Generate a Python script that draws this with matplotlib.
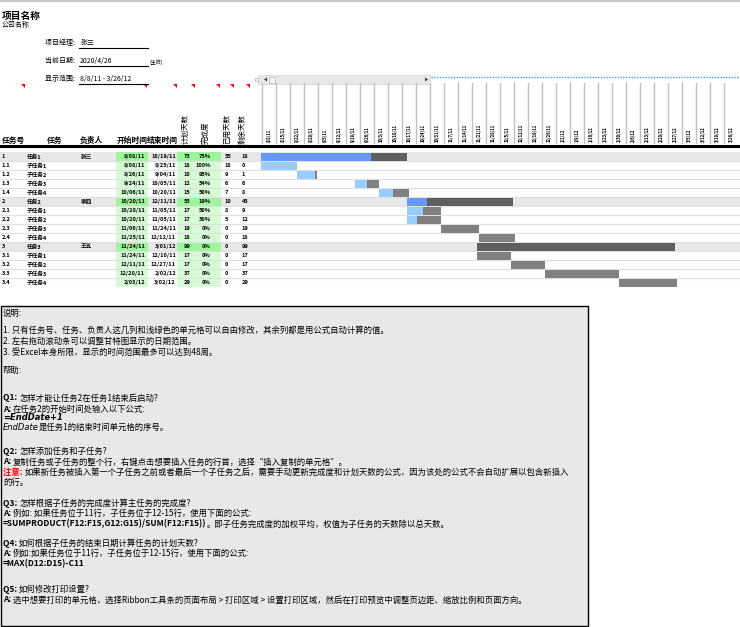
import matplotlib
matplotlib.use('Agg')
import matplotlib.pyplot as plt
import matplotlib.dates as mdates
from matplotlib.patches import Rectangle, Polygon
from datetime import datetime

plt.rcParams['font.family'] = ['Noto Sans CJK SC', 'DejaVu Sans']

# task table (read from the sheet)
task_ids = ['1', '1.1', '1.2', '1.3', '1.4', '2', '2.1', '2.2', '2.3', '2.4',
            '3', '3.1', '3.2', '3.3', '3.4']
task_names = ['任务1', '子任务1', '子任务2', '子任务3', '子任务4',
              '任务2', '子任务1', '子任务2', '子任务3', '子任务4',
              '任务3', '子任务1', '子任务2', '子任务3', '子任务4']
owners = ['张三', '', '', '', '', '李四', '', '', '', '', '王五', '', '', '', '']
start_dates = ['8/08/11', '8/08/11', '8/26/11', '9/24/11', '10/06/11',
               '10/20/11', '10/20/11', '10/20/11', '11/06/11', '11/25/11',
               '11/24/11', '11/24/11', '12/11/11', '12/28/11', '2/03/12']
end_dates = ['10/19/11', '8/25/11', '9/04/11', '10/05/11', '10/20/11',
             '12/11/11', '11/05/11', '11/05/11', '11/24/11', '12/12/11',
             '3/01/12', '12/10/11', '12/27/11', '2/02/12', '3/02/12']
plan_days = [73, 18, 10, 12, 15, 53, 17, 17, 19, 18, 99, 17, 17, 37, 29]
done_pct = [75, 100, 95, 54, 50, 19, 50, 30, 0, 0, 0, 0, 0, 0, 0]
used_days = [55, 18, 9, 6, 7, 10, 8, 5, 0, 0, 0, 0, 0, 0, 0]
left_days = [18, 0, 1, 6, 8, 43, 9, 12, 19, 18, 99, 17, 17, 37, 29]

week_labels = ['8/8/11', '8/15/11', '8/22/11', '8/29/11', '9/5/11', '9/12/11',
               '9/19/11', '9/26/11', '10/3/11', '10/10/11', '10/17/11',
               '10/24/11', '10/31/11', '11/7/11', '11/14/11', '11/21/11',
               '11/28/11', '12/5/11', '12/12/11', '12/19/11', '12/26/11',
               '1/2/12', '1/9/12', '1/16/12', '1/23/12', '1/30/12', '2/6/12',
               '2/13/12', '2/20/12', '2/27/12', '3/5/12', '3/12/12',
               '3/19/12', '3/26/12']

W, H = 740, 627
n = len(task_ids)
is_main = ['.' not in t for t in task_ids]
to_date = lambda s: datetime.strptime(s, '%m/%d/%y')
weeks = [to_date(s) for s in week_labels]

fig = plt.figure(figsize=(W / 100, H / 100), dpi=100)

# page axes in pixel units (for layout, headers and notes)
page = fig.add_axes([0, 0, 1, 1])
page.set_xlim(0, W)
page.set_ylim(H, 0)
page.axis('off')

page.plot([0, W], [0.8, 0.8], color='#c8c8c8', lw=1.6)
page.text(2, 16, '项目名称', fontsize=7, fontweight='bold', va='center')
page.text(2, 25, '公司名称', fontsize=5, va='center')

info = [('项目经理: ', '张三', 43), ('当前日期: ', '2020/4/26', 61),
        ('显示范围: ', '8/8/11 - 3/26/12', 79)]
for lab, val, y in info:
    page.text(45, y, lab, fontsize=5, va='center')
    page.text(80, y, val, fontsize=5, va='center')
    page.plot([79, 148], [y + 4.5, y + 4.5], color='black', lw=0.8)
page.text(149, 62, '(生效)', fontsize=3.6, va='center')

# comment markers
for x in [25, 147, 177, 195, 220, 234, 250]:
    page.add_patch(Polygon([[x - 4, 84], [x, 84], [x, 88]], closed=True,
                           color='#ff0000', lw=0))

# scrollbar
page.add_patch(Rectangle((258, 75), 172, 9, fc='#e8e8e8', ec='#d8d8d8', lw=0.6))
page.add_patch(Rectangle((255, 78), 3, 3, fc='white', ec='#b0b0b0', lw=0.5))
page.add_patch(Polygon([[264, 79.5], [267, 77.5], [267, 81.5]], color='#404040', lw=0))
page.add_patch(Rectangle((269, 76.5), 6, 6, fc='#f4f4f4', ec='#bdbdbd', lw=0.5))
page.add_patch(Polygon([[428, 79.5], [425, 77.5], [425, 81.5]], color='#404040', lw=0))
page.plot([431, W], [77, 77], color='#3d9bff', lw=1, ls=(0, (1, 1)))

# column headers
hdr = [('任务号', 2), ('任务', 47), ('负责人', 80), ('开始时间', 117), ('结束时间', 147)]
for s, x in hdr:
    page.text(x, 140, s, fontsize=5.6, fontweight='bold', va='center')
for s, x in [('计划天数', 186), ('完成度', 206), ('已用天数', 227), ('剩余天数', 243)]:
    page.text(x, 143.5, s, fontsize=5.4, rotation=90, ha='center', va='bottom')
page.plot([0, W], [146, 146], color='black', lw=2.2)

# notes box
page.add_patch(Rectangle((0.5, 306), 587, 320, fc='#e8e8e8', ec='black', lw=1))

def rich_line(y, parts, size=6.0):
    prev = None
    for s, kw in parts:
        if prev is None:
            prev = page.text(3, y, s, fontsize=size, va='center', **kw)
        else:
            prev = page.annotate(s, xy=(1, 0.5), xycoords=prev, fontsize=size,
                                 va='center', **kw)

B = {'fontweight': 'bold'}
N = {}
notes = [
    (313, [('说明:', N)]),
    (330, [('1. 只有任务号、任务、负责人这几列和浅绿色的单元格可以自由修改，其余列都是用公式自动计算的值。', N)]),
    (341, [('2. 左右拖动滚动条可以调整甘特图显示的日期范围。', N)]),
    (352, [('3. 受Excel本身所限，显示的时间范围最多可以达到48周。', N)]),
    (370, [('帮助:', N)]),
    (398, [('Q1: ', B), ('怎样才能让任务2在任务1结束后启动?', N)]),
    (409, [('A: ', B), ('在任务2的开始时间处输入以下公式:', N)]),
    (418, [('=EndDate+1', {'fontweight': 'bold', 'style': 'italic', 'family': 'DejaVu Sans'})]),
    (427, [('EndDate', {'style': 'italic', 'family': 'DejaVu Sans'}), ('是任务1的结束时间单元格的序号。', N)]),
    (451, [('Q2: ', B), ('怎样添加任务和子任务?', N)]),
    (462, [('A: ', B), ('复制任务或子任务的整个行，右键点击想要插入任务的行首，选择“插入复制的单元格”。', N)]),
    (472, [('注意: ', {'fontweight': 'bold', 'color': '#ff0000'}),
           ('如果新任务被插入第一个子任务之前或者最后一个子任务之后，需要手动更新完成度和计划天数的公式，因为该处的公式不会自动扩展以包含新插入', N)]),
    (482, [('的行。', N)]),
    (503, [('Q3: ', B), ('怎样根据子任务的完成度计算主任务的完成度?', N)]),
    (513, [('A: ', B), ('例如: 如果任务位于11行，子任务位于12-15行，使用下面的公式:', N)]),
    (524, [('=SUMPRODUCT(F12:F15,G12:G15)/SUM(F12:F15))', B),
           ('。即子任务完成度的加权平均，权值为子任务的天数除以总天数。', N)]),
    (543, [('Q4: ', B), ('如何根据子任务的结束日期计算任务的计划天数?', N)]),
    (553, [('A: ', B), ('例如:如果任务位于11行，子任务位于12-15行，使用下面的公式:', N)]),
    (564, [('=MAX(D12:D15)-C11', B)]),
    (589, [('Q5: ', B), ('如何修改打印设置?', N)]),
    (600, [('A: ', B), ('选中想要打印的单元格，选择Ribbon工具条的页面布局 > 打印区域 > 设置打印区域，然后在打印预览中调整页边距、缩放比例和页面方向。', N)]),
]
for y, parts in notes:
    rich_line(y, parts)

# table rows
top, pitch = 152.5, 9.0
rect = [0, 1 - (top + n * pitch) / H, 1, n * pitch / H]
rows = fig.add_axes(rect)
rows.set_xlim(0, W)
rows.set_ylim(n - 0.5, -0.5)
rows.axis('off')
rows.patch.set_alpha(0)

fs = 4.1
cell = {'fontsize': fs, 'va': 'center', 'fontweight': 'bold'}
for i in range(n):
    if is_main[i]:
        rows.axhspan(i - 0.5, i + 0.5, color='#e8e8e8', lw=0)
    g = '#9cf79c' if is_main[i] else '#d6fcd6'
    rows.add_patch(Rectangle((116, i - 0.5), 32, 1, fc=g, lw=0))
    rows.add_patch(Rectangle((177, i - 0.5), 44, 1, fc=g, lw=0))
    rows.axhline(i + 0.5, color='#e0e0e0', lw=0.9)
    rows.text(2, i, task_ids[i], **cell)
    rows.text(27, i, task_names[i], **cell)
    rows.text(81, i, owners[i], **cell)
    rows.text(145, i, start_dates[i], ha='right', **cell)
    rows.text(176, i, end_dates[i], ha='right', **cell)
    rows.text(184, i, str(plan_days[i]), **cell)
    rows.text(211, i, f'{done_pct[i]}%', ha='right', **cell)
    rows.text(225, i, str(used_days[i]), **cell)
    rows.text(242, i, str(left_days[i]), **cell)

# gantt bars: 2 px per day starting at 8/8/11
gx0 = 261
d0 = mdates.date2num(weeks[0])
span = (W - gx0) / 2
gantt = fig.add_axes([gx0 / W, rect[1], (W - gx0) / W, rect[3]])
gantt.set_xlim(d0, d0 + span)
gantt.set_ylim(n - 0.5, -0.5)
gantt.axis('off')
gantt.patch.set_alpha(0)

starts = [mdates.date2num(to_date(s)) for s in start_dates]
done_col = ['#6699ff' if m else '#99ccff' for m in is_main]
rest_col = ['#5f5f5f' if m else '#808080' for m in is_main]
y = list(range(n))
gantt.barh(y, used_days, left=starts, height=0.88, color=done_col, lw=0)
gantt.barh(y, left_days, left=[s + u for s, u in zip(starts, used_days)],
           height=0.88, color=rest_col, lw=0)

# week header
head = fig.add_axes([gx0 / W, 1 - 144 / H, (W - gx0) / W, 61 / H])
head.set_xlim(d0, d0 + span)
head.set_ylim(0, 1)
head.axis('off')
head.patch.set_alpha(0)
for d, s in zip(weeks, week_labels):
    x = mdates.date2num(d)
    head.axvline(x + 0.5, color='#c0c0c0', lw=1)
    head.text(x + 4, 0.03, s, fontsize=3.0, rotation=90, ha='center',
              va='bottom', fontweight='bold')

fig.savefig('out.png', dpi=100)
